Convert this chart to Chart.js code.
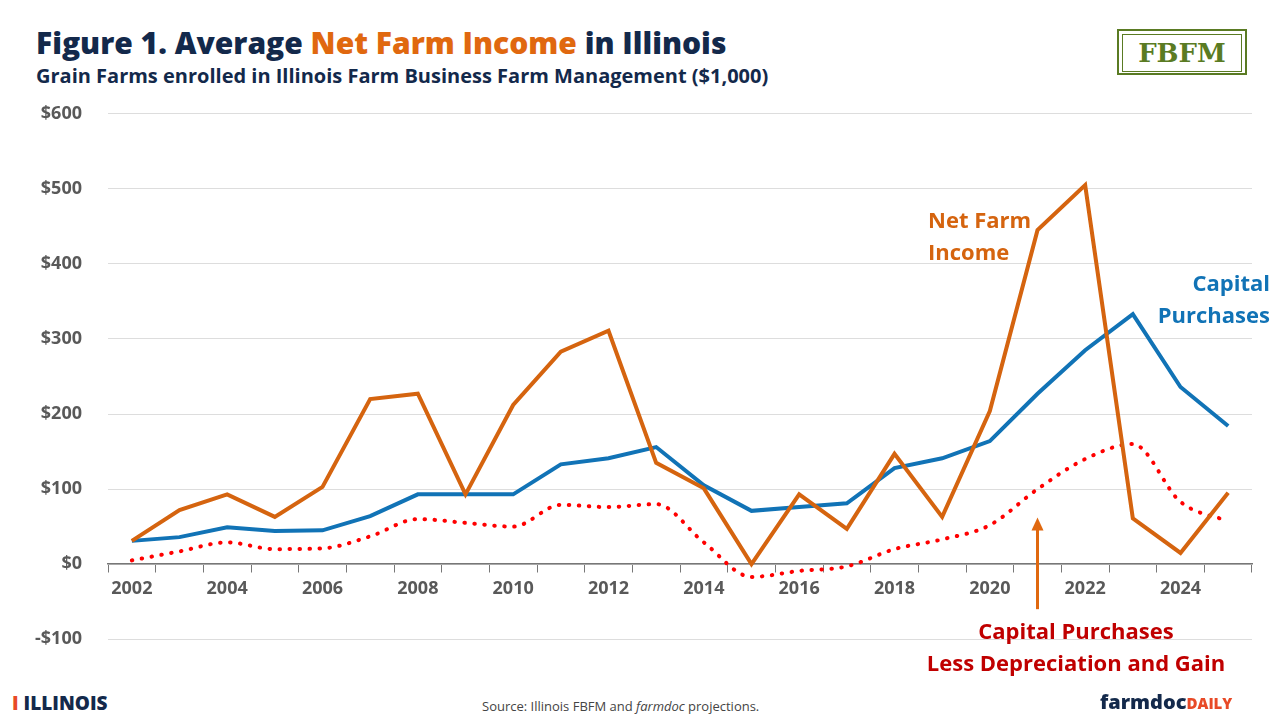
<!DOCTYPE html>
<html><head><meta charset="utf-8">
<script src="https://cdn.jsdelivr.net/npm/chart.js@4"></script>
<style>
body{margin:0;width:1280px;height:720px;background:#fff;font-family:"Open Sans",sans-serif;position:relative;overflow:hidden}
#wrap{position:absolute;left:0;top:77px;width:1280px;height:599px}
.t{position:absolute;white-space:nowrap}
</style></head><body>
<div class="t" style="left:36px;top:22px;font-size:30px;font-weight:800;color:#13294b">Figure 1. Average <span style="color:#e0680f">Net Farm Income</span> in Illinois</div>
<div class="t" style="left:36px;top:62px;font-size:20px;font-weight:700;color:#13294b">Grain Farms enrolled in Illinois Farm Business Farm Management ($1,000)</div>
<div class="t" style="left:1117px;top:29px;width:130px;height:46px;border:2px solid #5a7b23;box-sizing:border-box;"><div style="margin:3px;border:1px solid #5a7b23;height:36px;text-align:center;font-family:'DejaVu Serif',serif;font-weight:700;font-size:26px;color:#5a7b23;line-height:36px">FBFM</div></div>
<div id="wrap"><canvas id="c"></canvas></div>
<div class="t" style="left:928px;top:203px;font-size:22px;font-weight:700;color:#d5640f;line-height:32px">Net Farm<br>Income</div>
<div class="t" style="right:10px;top:266px;font-size:22px;font-weight:700;color:#1173b6;line-height:32px;text-align:right">Capital<br>Purchases</div>
<div class="t" style="left:896px;top:614px;font-size:22px;font-weight:700;color:#c00000;line-height:32px;text-align:center;width:360px">Capital Purchases<br>Less Depreciation and Gain</div>
<div class="t" style="left:12px;top:690px;font-size:19px;font-weight:800;color:#13294b"><span style="color:#e84a27">I</span> ILLINOIS</div>
<div class="t" style="left:482px;top:697px;font-size:13px;color:#444">Source: Illinois FBFM and <i>farmdoc</i> projections.</div>
<div class="t" style="left:1100px;top:688px;font-size:20px;font-weight:800;color:#13294b">farmdoc<span style="font-size:15px;color:#e84a27">DAILY</span></div>
<script>
const years = [2002,2003,2004,2005,2006,2007,2008,2009,2010,2011,2012,2013,2014,2015,2016,2017,2018,2019,2020,2021,2022,2023,2024,2025];
const netFarmIncome = [31,72,93,63,103,220,227,93,212,283,311,135,101,0,93,47,147,63,204,445,505,61,15,95];
const capitalPurchases = [31,36,49,44,45,64,93,93,93,133,141,156,105,71,76,81,128,141,164,227,285,333,236,184];
const lessDepreciation = [5,17,29,20,21,37,60,55,50,79,76,80,29,-17,-9,-3,20,33,52,100,140,160,83,57];
const yTicks = [-100,0,100,200,300,400,500,600];

const arrow = {
  id:'arrow',
  afterDatasetsDraw(chart){
    const {ctx,scales:{x,y}} = chart;
    const px = x.getPixelForValue(years.indexOf(2021));
    const y1 = y.getPixelForValue(-60), y2 = y.getPixelForValue(62);
    ctx.save();
    ctx.strokeStyle='#e0680f';ctx.fillStyle='#e0680f';ctx.lineWidth=3;
    ctx.beginPath();ctx.moveTo(px,y1);ctx.lineTo(px,y2+10);ctx.stroke();
    ctx.beginPath();ctx.moveTo(px,y2);ctx.lineTo(px-6,y2+13);ctx.lineTo(px+6,y2+13);ctx.closePath();ctx.fill();
    ctx.restore();
  }
};

new Chart(document.getElementById('c'), {
  type:'line',
  data:{labels:years.map(String),datasets:[
    {label:'Net Farm Income',data:netFarmIncome,borderColor:'#d5640f',borderWidth:4,pointRadius:0,tension:0},
    {label:'Capital Purchases',data:capitalPurchases,borderColor:'#1173b6',borderWidth:4,pointRadius:0,tension:0},
    {label:'Less Depreciation',data:lessDepreciation,borderColor:'#ff0000',borderWidth:4,borderDash:[0.5,9.5],borderCapStyle:'round',pointRadius:0,cubicInterpolationMode:'monotone',tension:0.4}
  ]},
  options:{
    responsive:true,maintainAspectRatio:false,animation:false,
    layout:{padding:{left:28,right:28,top:6,bottom:10}},
    plugins:{legend:{display:false},tooltip:{enabled:false}},
    scales:{
      x:{type:'category',offset:true,position:{y:0},
        grid:{offset:true,drawOnChartArea:false,drawTicks:true,tickLength:8,color:'#777'},border:{color:'#777',width:1.5},
        ticks:{color:'#595959',font:{size:18,weight:'bold',family:'Open Sans'},padding:6,autoSkip:false,maxRotation:0,
          callback:(v,i)=>years[i]%2===0?String(years[i]):''}},
      y:{min:-100,max:600,
        afterFit:s=>{s.width=80;},
        afterBuildTicks:s=>{s.ticks=yTicks.map(v=>({value:v}));},
        grid:{color:'#dddddd',drawTicks:false},border:{display:false},
        ticks:{color:'#595959',font:{size:18,weight:'bold',family:'Open Sans'},padding:26,callback:v=>(v<0?'-$':'$')+Math.abs(v)}}
    }
  },
  plugins:[arrow]
});
</script>
</body></html>
